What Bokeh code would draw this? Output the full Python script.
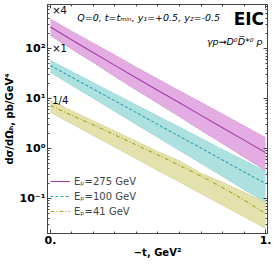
from bokeh.plotting import figure
from bokeh.models import Range1d, FixedTicker, LinearAxis, LogAxis, Label, Legend, LegendItem
from bokeh.embed import file_html
from bokeh.resources import INLINE

# -t values (GeV^2)
t = [0.0, 0.1, 0.2, 0.3, 0.4, 0.5, 0.6, 0.7, 0.8, 0.9, 1.0]

# E_p = 275 GeV (x4)
c275 = [268, 148, 82, 46, 25.6, 14.5, 8.2, 4.6, 2.6, 1.47, 0.83]
hi275 = [390, 222, 128, 74, 42, 24.5, 14.3, 8.4, 4.9, 2.85, 1.66]
lo275 = [182, 96, 52, 27.3, 14.7, 7.9, 4.3, 2.3, 1.25, 0.67, 0.36]

# E_p = 100 GeV (x1)
c100 = [45.7, 26.5, 15.4, 8.95, 5.2, 3.0, 1.75, 1.02, 0.59, 0.34, 0.2]
hi100 = [57.5, 34.5, 20.7, 12.4, 7.4, 4.47, 2.68, 1.6, 0.96, 0.58, 0.35]
lo100 = [33, 18.2, 10, 5.5, 3.0, 1.66, 0.91, 0.5, 0.275, 0.15, 0.083]

# E_p = 41 GeV (x1/4)
c41 = [7.2, 4.6, 2.95, 1.86, 1.17, 0.74, 0.46, 0.28, 0.166, 0.093, 0.05]
hi41 = [9.1, 5.7, 3.56, 2.23, 1.39, 0.87, 0.57, 0.32, 0.213, 0.133, 0.083]
lo41 = [5.25, 3.08, 1.8, 1.06, 0.62, 0.36, 0.213, 0.125, 0.073, 0.043, 0.025]

xticks = [0, 1]
xtick_labels = {0: "0.", 1: "1."}
yticks = [0.1, 1, 10, 100]
ytick_labels = {0.1: "10\u207b\u00b9", 1: "10\u2070", 10: "10\u00b9", 100: "10\u00b2"}

FONT = "DejaVu Sans"

p = figure(width=273, height=264, y_axis_type="log",
           x_range=Range1d(-0.0136, 1.009), y_range=Range1d(10 ** -1.7, 10 ** 2.88),
           output_backend="svg", toolbar_location=None,
           min_border_left=42, min_border_right=6, min_border_top=4, min_border_bottom=31)
p.xgrid.visible = False
p.ygrid.visible = False
p.outline_line_color = "#444444"
p.background_fill_color = "white"
p.border_fill_color = "white"

series = [
    (c275, hi275, lo275, "#e2a8e2", "#c47ec4", "#a33ca6", "solid", "E\u209a=275 GeV"),
    (c100, hi100, lo100, "#a9dfdd", "#78c4c4", "#2fa3b5", "3 2", "E\u209a=100 GeV"),
    (c41, hi41, lo41, "#e2dfa8", "#c4c078", "#aaa82a", "4 2 1 2", "E\u209a=41 GeV"),
]
items = []
for c, hi, lo, fill, edge, col, dash, lab in series:
    p.varea(x=t, y1=lo, y2=hi, fill_color=fill, fill_alpha=0.95)
    p.line(t, hi, line_color=edge, line_width=0.8, line_dash="1 1")
    p.line(t, lo, line_color=edge, line_width=0.8, line_dash="1 1")
    r = p.line(t, c, line_color=col, line_width=1.1, line_dash=dash)
    items.append(LegendItem(label=lab, renderers=[r]))

legend = Legend(items=items, location=(1, 14), background_fill_alpha=0, border_line_alpha=0,
                glyph_width=20, glyph_height=12, label_text_font_size="10px",
                label_text_font=FONT, label_height=12, spacing=3, padding=2, margin=0,
                label_standoff=4)
p.add_layout(legend)


def style_axis(ax):
    ax.axis_line_color = "#444444"
    ax.major_tick_line_color = "#444444"
    ax.minor_tick_line_color = "#444444"
    ax.major_tick_in = 4
    ax.major_tick_out = 0
    ax.minor_tick_in = 2
    ax.minor_tick_out = 0
    ax.major_label_text_font = FONT
    ax.major_label_text_font_style = "bold"
    ax.major_label_text_color = "black"
    ax.major_label_text_font_size = "11px"
    ax.major_label_standoff = 2
    ax.axis_label_text_font = FONT
    ax.axis_label_text_font_style = "bold"
    ax.axis_label_text_font_size = "10px"
    ax.axis_label_text_color = "black"
    ax.axis_label_standoff = 2


xt = FixedTicker(ticks=xticks, minor_ticks=[0.1 * i for i in range(1, 10)])
yt = FixedTicker(ticks=yticks, minor_ticks=[m * 10.0 ** e for e in range(-2, 3) for m in range(2, 10)])

p.xaxis.ticker = xt
p.xaxis.major_label_overrides = xtick_labels
p.xaxis.axis_label = "\u2212t, GeV\u00b2"
style_axis(p.xaxis[0])
p.xaxis.major_label_standoff = 2
p.xaxis.axis_label_standoff = 0

p.yaxis.ticker = yt
p.yaxis.major_label_overrides = ytick_labels
p.yaxis.axis_label = "d\u03c3/d\u03a9\u2095, pb/GeV\u2074"
style_axis(p.yaxis[0])

# mirror tick marks on top and right, without labels
top = LinearAxis(ticker=xt)
style_axis(top)
top.major_label_text_color = None
top.major_label_text_font_size = "1px"
top.major_label_standoff = 0
p.add_layout(top, "above")
right = LogAxis(ticker=yt)
style_axis(right)
right.major_label_text_color = None
right.major_label_text_font_size = "1px"
right.major_label_standoff = 0
p.add_layout(right, "right")


def lab(x, y, text, size="10px", style="normal", align="left", color="black"):
    p.add_layout(Label(x=x, y=y, text=text, text_font=FONT, text_font_size=size,
                       text_font_style=style, text_align=align, text_baseline="middle",
                       text_color=color))


lab(0.008, 10 ** 2.76, "\u00d74")
lab(0.008, 10 ** 2.0, "\u00d71")
lab(0.008, 10 ** 0.96, "1/4")
lab(0.125, 10 ** 2.63, "Q=0, t=t\u2098\u1d62\u2099, y\u2081=+0.5, y\u2082=-0.5", size="9.5px", style="italic")
lab(0.993, 10 ** 2.6, "EIC", size="17px", style="bold", align="right")
lab(0.986, 10 ** 2.14, "\u03b3p\u2192D\u2070D\u0305*\u2070 p", size="9.5px", style="italic", align="right")

open("out.html", "w").write(file_html(p, INLINE))
